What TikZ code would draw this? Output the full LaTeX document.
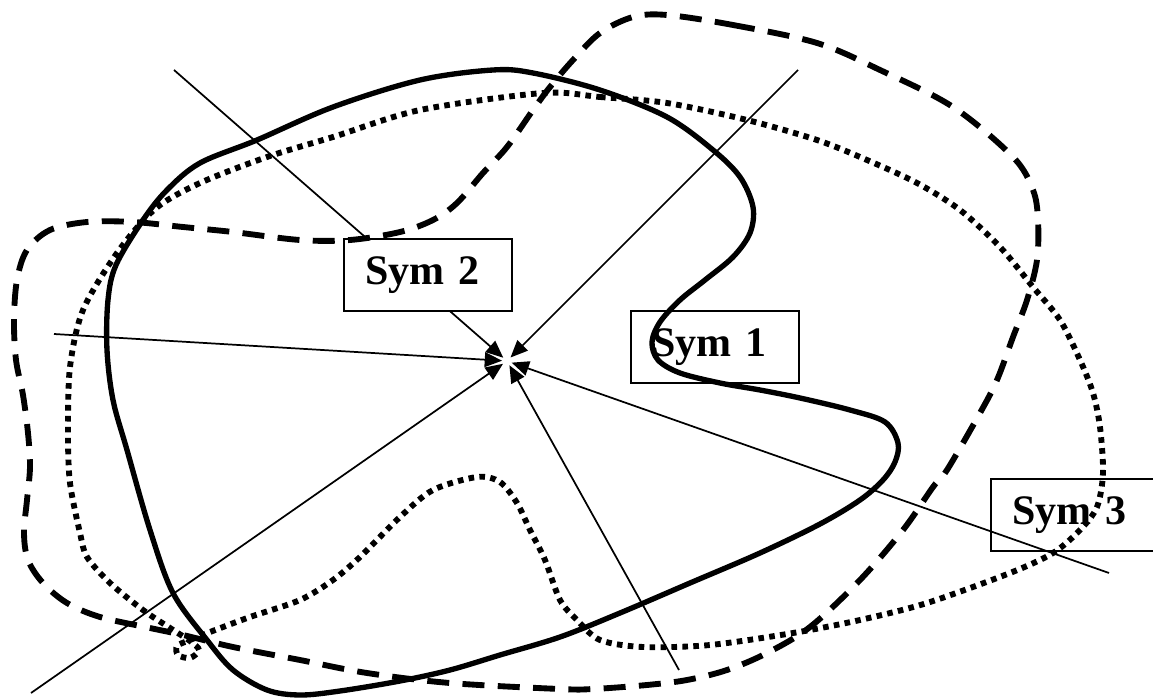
\documentclass[tikz,border=0pt]{standalone}
\usepackage{fontspec}
\setmainfont{Liberation Serif}
\usetikzlibrary{arrows.meta}
\begin{document}
\begin{tikzpicture}[x=0.75pt,y=-0.75pt,
  ray/.style={line width=1.3pt, -{Triangle[length=13pt,width=11pt]}},
  symbox/.style={draw, line width=1.2pt, anchor=north west, minimum width=126pt,
    minimum height=54pt, inner xsep=16pt, text width=94pt, align=left,
    font=\bfseries\fontsize{31.5}{36}\selectfont},
  solidcurve/.style={line width=4pt},
  dashcurve/.style={line width=4.4pt, dash pattern=on 16.5pt off 10pt},
  dotcurve/.style={line width=4.4pt, dash pattern=on 4.2pt off 4pt}]
\useasboundingbox (0,0) rectangle (1153,698);

% meeting point of the symmetry axes
\node[circle, minimum size=7pt, inner sep=0pt] (c) at (507,361) {};

% outer ends of the axes
\coordinate (r1) at (174,70);
\coordinate (r2) at (798,70);
\coordinate (r3) at (54,334);
\coordinate (r4) at (31,693);
\coordinate (r5) at (679,670);
\coordinate (r6) at (1109,573);

\foreach \r in {r1,r2,r3,r4,r5,r6}
  \draw[ray] (\r) -- (c);

% labels
\node[symbox, fill=white] (s2) at (343,238) {Sym 2};
\node[symbox] (s1) at (630,310) {Sym 1};
\node[symbox] (s3) at (990,478) {Sym 3};

% solid outline
\draw[solidcurve] plot[smooth cycle, tension=0.55] coordinates {
  (493,70) (533,73) (600,90) (667,117) (713,150) (740,177) (753,207)
  (750,233) (733,257) (705,280) (680,300) (660,322) (652,342) (658,360)
  (680,373) (720,383) (760,390) (800,398) (850,410) (885,422) (898,443)
  (895,462) (883,480) (860,500) (820,524) (760,553) (690,583) (620,613)
  (560,637) (500,655) (450,670) (400,681) (340,691) (300,695) (267,690)
  (233,670) (207,640) (173,593) (150,530) (127,450) (113,400) (107,350)
  (108,300) (116,265) (143,220) (167,190) (200,163) (257,140) (333,107)
  (420,80)};

% dashed outline
\draw[dashcurve] plot[smooth cycle, tension=0.55] coordinates {
  (667,15) (733,25) (817,43) (880,70) (953,107) (1013,157) (1033,190)
  (1038,220) (1037,260) (1027,300) (1013,337) (997,380) (980,413)
  (947,470) (933,487) (903,530) (860,580) (810,627) (767,653) (727,670)
  (687,680) (647,685) (593,689) (560,689) (450,683) (367,673) (300,660)
  (233,647) (183,635) (150,628) (100,617) (67,603) (43,583) (28,560)
  (24,533) (27,500) (30,467) (28,433) (23,395) (16,360) (14,320) (17,280)
  (27,250) (50,230) (87,222) (133,222) (183,227) (233,232) (300,240)
  (350,240) (400,232) (433,220) (457,203) (483,173) (507,147) (533,110)
  (550,87) (573,60) (600,33) (633,17)};

% dotted outline
\draw[dotcurve] plot[smooth cycle, tension=0.5] coordinates {
  (543,93) (600,97) (667,103) (747,120) (817,140) (867,160) (917,183)
  (960,210) (1000,247) (1033,287) (1060,320) (1080,360) (1093,393)
  (1100,427) (1103,473) (1097,507) (1080,530) (1053,553) (1010,573)
  (927,603) (860,620) (793,633) (710,645) (643,647) (600,640) (577,620)
  (560,600) (545,560) (530,530) (517,503) (500,482) (477,477) (433,490)
  (400,517) (360,557) (333,580) (300,600) (250,617) (210,632) (190,640)
  (177,646) (178,655) (190,658) (199,650) (190,641) (170,628) (143,610)
  (110,583) (87,557) (80,533) (70,483) (68,433) (70,367) (83,310)
  (117,253) (155,209) (200,183) (267,157) (333,137) (420,110)};
\end{tikzpicture}
\end{document}
